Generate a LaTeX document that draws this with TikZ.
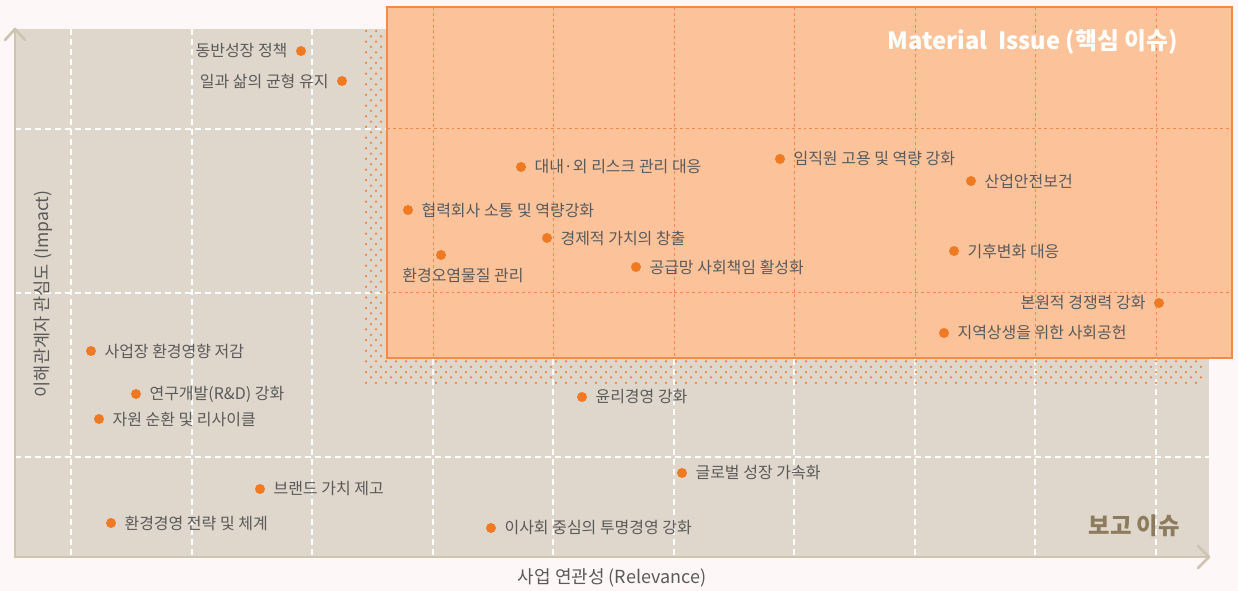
\documentclass[tikz,border=0pt]{standalone}
\usepackage{fontspec}
\setmainfont{Noto Sans CJK KR}
\usetikzlibrary{positioning}
\definecolor{pagebg}{HTML}{FDF8F7}
\definecolor{beige}{HTML}{DFD7CC}
\definecolor{boxfill}{HTML}{FCC39B}
\definecolor{boxline}{HTML}{F4894A}
\definecolor{dotc}{HTML}{F07A22}
\definecolor{patc}{HTML}{E9853F}
\definecolor{axisc}{HTML}{CFC4B0}
\definecolor{txt}{HTML}{5A5A5A}
\definecolor{brownt}{HTML}{8C7B5C}
\tikzset{
  wgrid/.style={draw=white,line width=0.9pt,dash pattern=on 4.5pt off 3pt},
  ogrid/.style={draw=boxline,line width=0.75pt,dash pattern=on 2.2pt off 2.2pt},
  axisline/.style={draw=axisc,line width=2pt,line cap=round,line join=round},
  dot/.style={circle,fill=dotc,inner sep=0pt,minimum size=7.5pt},
  lbl/.style={inner sep=0pt,text=txt,font=\fontsize{12pt}{14pt}\selectfont},
  patdot/.style={fill=patc},
}
\begin{document}
\begin{tikzpicture}[x=0.75pt,y=-0.75pt]
\fill[pagebg] (0,0) rectangle (1238,591);
\useasboundingbox (0,0) rectangle (1238,591);
% beige field
\fill[beige] (15,29) rectangle (1209,557);
% white dashed grid
\foreach \gx in {71,192,312,433,553,674,794,915,1035,1156}
  \draw[wgrid] (\gx,29) -- (\gx,557);
\foreach \gy in {129,293,457}
  \draw[wgrid] (15,\gy) -- (1209,\gy);
% dotted pattern: left strip
\foreach \k in {0,...,61}{
  \pgfmathsetmacro{\yy}{31+5.33*\k}
  \pgfmathsetmacro{\xo}{366+5*mod(\k,2)}
  \fill[patdot] (\xo,\yy) circle[radius=1.25];
  \fill[patdot] (\xo+10,\yy) circle[radius=1.25];
}
% dotted pattern: bottom strip
\foreach \k in {62,...,66}{
  \pgfmathsetmacro{\yy}{31+5.33*\k}
  \pgfmathsetmacro{\xo}{366+5*mod(\k,2)}
  \foreach \j in {0,...,83}{
    \fill[patdot] (\xo+10*\j,\yy) circle[radius=1.25];
  }
}
% orange material box
\fill[boxfill] (387,7) rectangle (1232,358);
\foreach \gx in {433,553,674,794,915,1035,1156}
  \draw[ogrid] (\gx,7) -- (\gx,358);
\foreach \gy in {129,293}
  \draw[ogrid] (387,\gy) -- (1232,\gy);
\draw[boxline,line width=1.2pt] (387,7) rectangle (1232,358);
% axes
\coordinate (org) at (15,557);
\coordinate (ytop) at (15,29);
\coordinate (xend) at (1209,557);
\draw[axisline] (org) -- (ytop);
\draw[axisline] (5,40) -- (ytop) -- (25,40);
\draw[axisline] (org) -- (xend);
\draw[axisline] (1198,546) -- (xend) -- (1198,568);
% axis labels
\node[text=txt,font=\fontsize{13.2pt}{15pt}\selectfont,rotate=90] (ylab) at (43,294) {이해관계자 관심도 (Impact)};
\node[text=txt,font=\fontsize{13.5pt}{15pt}\selectfont] (xlab) at (612,578) {사업 연관성 (Relevance)};
% titles
\node[text=white,font=\bfseries\fontsize{17.8pt}{20pt}\selectfont,anchor=east,inner sep=0pt] (mtitle) at (1178,42) {Material\ \ Issue (핵심 이슈)};
\node[text=brownt,font=\bfseries\fontsize{17.5pt}{20pt}\selectfont,anchor=east,inner sep=0pt] (rtitle) at (1180,526) {보고 이슈};
% issues
\node[dot] (d1) at (301,51) {};
\node[lbl,left=6pt of d1] (t1) {동반성장 정책};
\node[dot] (d2) at (342,81) {};
\node[lbl,left=6pt of d2] (t2) {일과 삶의 균형 유지};
\node[dot] (d3) at (521,167) {};
\node[lbl,right=6pt of d3] (t3) {대내·외 리스크 관리 대응};
\node[dot] (d4) at (780,159) {};
\node[lbl,right=6pt of d4] (t4) {임직원 고용 및 역량 강화};
\node[dot] (d5) at (971,181) {};
\node[lbl,right=6pt of d5] (t5) {산업안전보건};
\node[dot] (d6) at (408,210) {};
\node[lbl,right=6pt of d6] (t6) {협력회사 소통 및 역량강화};
\node[dot] (d7) at (547,238) {};
\node[lbl,right=6pt of d7] (t7) {경제적 가치의 창출};
\node[dot] (d8) at (441,255) {};
\node[lbl] (t8) at (463,275) {환경오염물질 관리};
\node[dot] (d9) at (636,267) {};
\node[lbl,right=6pt of d9] (t9) {공급망 사회책임 활성화};
\node[dot] (d10) at (954,251) {};
\node[lbl,right=6pt of d10] (t10) {기후변화 대응};
\node[dot] (d11) at (1159,303) {};
\node[lbl,left=6pt of d11] (t11) {본원적 경쟁력 강화};
\node[dot] (d12) at (944,333) {};
\node[lbl,right=6pt of d12] (t12) {지역상생을 위한 사회공헌};
\node[dot] (d13) at (91,351) {};
\node[lbl,right=6pt of d13] (t13) {사업장 환경영향 저감};
\node[dot] (d14) at (136,394) {};
\node[lbl,right=6pt of d14] (t14) {연구개발(R\&D) 강화};
\node[dot] (d15) at (99,419) {};
\node[lbl,right=6pt of d15] (t15) {자원 순환 및 리사이클};
\node[dot] (d16) at (582,397) {};
\node[lbl,right=6pt of d16] (t16) {윤리경영 강화};
\node[dot] (d17) at (682,473) {};
\node[lbl,right=6pt of d17] (t17) {글로벌 성장 가속화};
\node[dot] (d18) at (260,489) {};
\node[lbl,right=6pt of d18] (t18) {브랜드 가치 제고};
\node[dot] (d19) at (111,523) {};
\node[lbl,right=6pt of d19] (t19) {환경경영 전략 및 체계};
\node[dot] (d20) at (491,528) {};
\node[lbl,right=6pt of d20] (t20) {이사회 중심의 투명경영 강화};
\end{tikzpicture}
\end{document}
